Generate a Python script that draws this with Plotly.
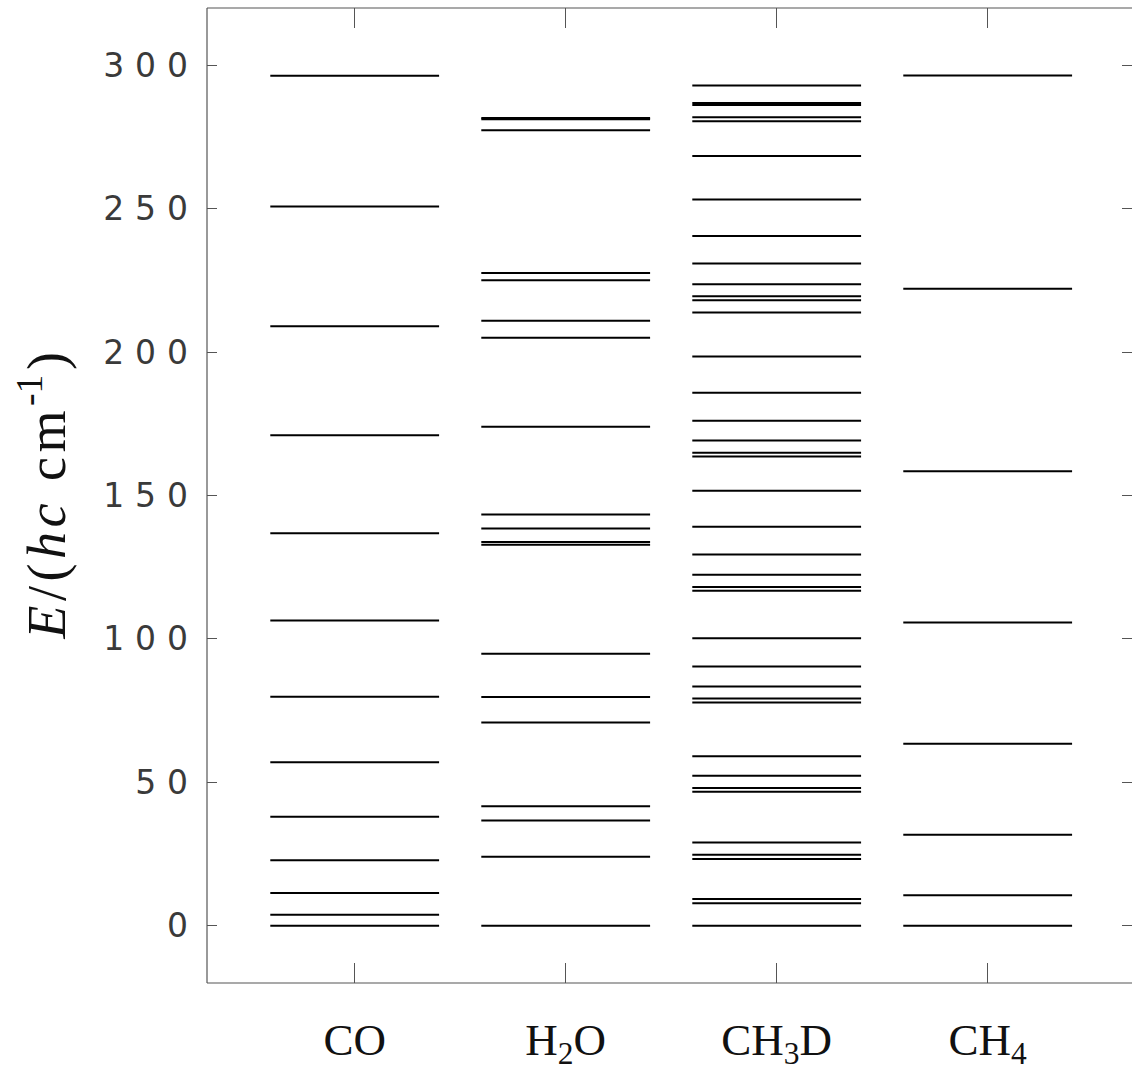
import plotly.graph_objects as go

# ---- data ----
molecules = ["CO", "H<sub>2</sub>O", "CH<sub>3</sub>D", "CH<sub>4</sub>"]
co_levels = [0, 3.8, 11.4, 22.8, 38.0, 57.0, 79.8, 106.4, 136.8, 171.0, 209.0, 250.8, 296.4]
h2o_levels = [0, 24.0, 36.7, 41.6, 70.8, 79.7, 94.8, 132.8, 133.8, 138.5, 143.4, 174.0,
              205.0, 210.9, 225.1, 227.6, 277.4, 281.2, 281.6]
ch3d_levels = [0, 7.8, 9.3, 23.2, 24.7, 29.0, 46.7, 48.0, 52.3, 59.1, 77.8, 79.2, 83.4,
               90.4, 100.2, 116.8, 118.1, 122.4, 129.4, 139.1, 151.7, 163.6, 164.9, 169.2,
               176.1, 185.8, 198.5, 213.8, 218.1, 219.5, 223.7, 230.9, 240.5, 253.2, 268.4,
               280.5, 281.9, 286.2, 286.9, 293.0]
ch4_levels = [0, 10.6, 31.7, 63.4, 105.7, 158.5, 222.1, 296.5]
y_ticks = [0, 50, 100, 150, 200, 250, 300]

all_levels = [co_levels, h2o_levels, ch3d_levels, ch4_levels]
half_width = 0.4
positions = [1, 2, 3, 4]
x_range = [0.3, 4.684]

fig = go.Figure()
for pos, levels in zip(positions, all_levels):
    xs, ys = [], []
    for e in levels:
        xs += [pos - half_width, pos + half_width, None]
        ys += [e, e, None]
    fig.add_trace(go.Scatter(x=xs, y=ys, mode="lines",
                             line=dict(color="black", width=2),
                             showlegend=False, hoverinfo="skip"))

sp = "\u2004"
ytick_text = [sp.join(list(str(v))) for v in y_ticks]

axis_col = "#555555"
fig.update_layout(
    width=1132, height=1074,
    margin=dict(l=207, r=0, t=8, b=91),
    paper_bgcolor="white", plot_bgcolor="white",
    xaxis=dict(range=x_range, tickvals=positions, ticktext=molecules,
               ticks="inside", ticklen=20, tickwidth=1, tickcolor=axis_col,
               showgrid=False, zeroline=False, showline=False,
               tickfont=dict(family="Liberation Serif", size=45, color="#111111"),
               ticklabelstandoff=26),
    xaxis2=dict(range=x_range, tickvals=positions, overlaying="x", side="top",
                ticks="inside", ticklen=20, tickwidth=1, tickcolor=axis_col,
                showticklabels=False, showgrid=False, zeroline=False, showline=False),
    yaxis=dict(range=[-20, 320], tickvals=y_ticks, ticktext=ytick_text,
               ticks="inside", ticklen=10, tickwidth=1, tickcolor=axis_col,
               showgrid=False, zeroline=False, showline=False,
               tickfont=dict(family="DejaVu Sans", size=33, color="#3a3a3a"),
               ticklabelstandoff=18),
    yaxis2=dict(range=[-20, 320], tickvals=y_ticks, overlaying="y", side="right",
                ticks="inside", ticklen=10, tickwidth=1, tickcolor=axis_col,
                showticklabels=False, showgrid=False, zeroline=False, showline=False),
)
# dummy trace to activate the mirrored axes
fig.add_trace(go.Scatter(x=[None], y=[None], xaxis="x2", yaxis="y2",
                         showlegend=False, hoverinfo="skip"))

# frame lines (left, bottom, top)
for x0, y0, x1, y1 in [(0, 0, 0, 1), (0, 0, 1, 0), (0, 1, 1, 1)]:
    fig.add_shape(type="line", xref="paper", yref="paper", x0=x0, y0=y0, x1=x1, y1=y1,
                  line=dict(color=axis_col, width=1.2))

g = "\u200a"
title = g.join(["<i>E</i>", "/", "(", "<i>h</i>", "<i>c</i>", " ", "c", "m",
                "<sup>-1</sup>", ")"])
fig.add_annotation(xref="paper", yref="paper", x=0, y=0.5, xshift=-164,
                   text=title, showarrow=False,
                   textangle=-90, xanchor="center", yanchor="middle",
                   font=dict(family="Liberation Serif", size=54, color="#111111"))

fig.write_html("out.html",
               config={"displayModeBar": False},
               post_script="document.body.style.margin='0';"
                           "document.body.style.overflow='hidden';")
